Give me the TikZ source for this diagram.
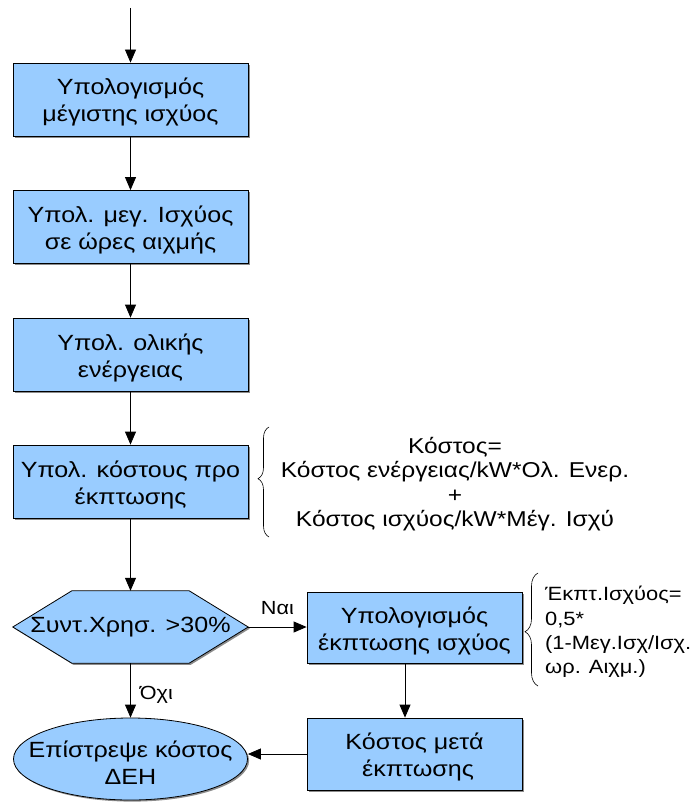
\documentclass[tikz,border=0pt]{standalone}
\usepackage{fontspec}
\setmainfont[FakeStretch=1.14]{Liberation Sans}
\usetikzlibrary{arrows.meta,shadows,decorations.pathreplacing,calc,backgrounds,shapes.geometric}
\definecolor{boxblue}{HTML}{99CCFF}
\newcommand\mytop{\rule{0pt}{24pt}}
\newcommand\mybot{\rule[-6pt]{0pt}{6pt}}
\tikzset{
  every node/.style={font=\fontsize{22}{27}\selectfont},
  procbox/.style={draw=black, line width=0.8pt, fill=boxblue, minimum width=235pt, minimum height=73pt, align=center, inner sep=0pt,
    drop shadow={shadow xshift=1.6pt, shadow yshift=-1.6pt, fill=black!45, opacity=1}},
  conn/.style={draw=black, line width=0.8pt, -{Triangle[length=13pt,width=11pt]}},
  lbl/.style={font=\fontsize{19}{23}\selectfont, inner sep=0pt},
  bracestyle/.style={draw=black, line width=0.6pt},
  notetext/.style={font=\fontsize{21.5}{24.4}\selectfont, inner sep=0pt},
}
\begin{document}
\begin{tikzpicture}[x=1pt,y=-1pt]
\useasboundingbox (0,0) rectangle (695,805);
\coordinate (start) at (130.5,8);
\node[procbox] (b1) at (130.5,99.5) {\mytop Υπολογισμός\\μέγιστης ισχύος\mybot};
\node[procbox] (b2) at (130.5,227) {\mytop Υπολ. μεγ. Ισχύος\\σε ώρες αιχμής\mybot};
\node[procbox] (b3) at (130.5,354.5) {\mytop Υπολ. ολικής\\ενέργειας\mybot};
\node[procbox] (b4) at (130.5,481.5) {\mytop Υπολ. κόστους προ\\έκπτωσης\mybot};
% hexagon decision
\node[minimum width=235pt, minimum height=72pt, inner sep=0pt] (hex) at (130.5,627) {Συντ.Χρησ. >30\%};
\begin{scope}[on background layer]
\fill[black!45] ($(hex.west)+(1.6,1.6)$) -- ($(hex.north west)+(60.6,1.6)$) -- ($(hex.north east)+(-57.4,1.6)$) -- ($(hex.east)+(1.6,1.6)$) -- ($(hex.south east)+(-57.4,1.6)$) -- ($(hex.south west)+(60.6,1.6)$) -- cycle;
\draw[line width=0.8pt, fill=boxblue] (hex.west) -- ($(hex.north west)+(59,0)$) -- ($(hex.north east)+(-59,0)$) -- (hex.east) -- ($(hex.south east)+(-59,0)$) -- ($(hex.south west)+(59,0)$) -- cycle;
\end{scope}
\node[procbox, minimum width=215pt, minimum height=71pt] (b5) at (414.5,627.5) {\mytop Υπολογισμός\\έκπτωσης ισχύος\mybot};
\node[procbox, minimum width=215pt, minimum height=72pt] (b6) at (414.5,754) {\mytop Κόστος μετά\\\hspace*{7pt}έκπτωσης\mybot};
\node[draw=black, line width=0.8pt, fill=boxblue, ellipse, minimum width=234pt, minimum height=82pt, inner sep=0pt,
    drop shadow={shadow xshift=1.6pt, shadow yshift=-1.6pt, fill=black!45, opacity=1}] (e) at (130.5,759) {};
\node[align=center, inner sep=0pt] (etext) at (130.5,763) {Επίστρεψε κόστος\\ΔΕΗ};
% connectors
\draw[conn] (start) -- (b1.north);
\draw[conn] (b1) -- (b2);
\draw[conn] (b2) -- (b3);
\draw[conn] (b3) -- (b4);
\draw[conn] (b4) -- (hex);
\draw[conn] (hex.east) -- node[lbl, above=12pt] (yes) {Ναι} (b5.west |- hex.east);
\draw[conn] (hex) -- node[lbl, right=9pt, pos=0.58] (no) {Όχι} (e);
\coordinate (ax) at (405,0);
\draw[conn] (b5.south -| ax) -- (b6.north -| ax);
\draw[conn] (b6.west) -- (e.east |- b6.west);
% brace annotations
\coordinate (br1t) at (269,427);
\coordinate (br1b) at (269,537);
\draw[bracestyle, decorate, decoration={brace, amplitude=11pt, aspect=0.53}] (br1b) -- (br1t);
\node[notetext, align=center] (note1) at (455,484) {Κόστος=\\Κόστος ενέργειας/kW*Ολ. Ενερ.\\+\\Κόστος ισχύος/kW*Μέγ. Ισχύ};
\coordinate (br2t) at (538,573);
\coordinate (br2b) at (538,686);
\draw[bracestyle, decorate, decoration={brace, amplitude=13pt, aspect=0.48}] (br2b) -- (br2t);
\node[notetext, font=\fontsize{19.2}{24.4}\selectfont, align=left, anchor=west] (note2) at (545,632) {Έκπτ.Ισχύος=\\0,5*\\(1-Μεγ.Ισχ/Ισχ.\\ωρ. Αιχμ.)};
\end{tikzpicture}
\end{document}
